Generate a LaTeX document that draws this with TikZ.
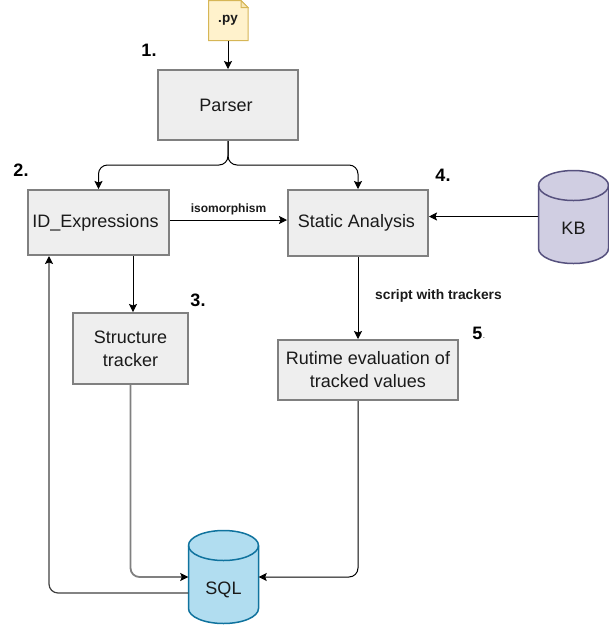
\documentclass[tikz,border=0pt]{standalone}
\usepackage{fontspec}
\setmainfont{Liberation Sans}
\usetikzlibrary{arrows.meta}
\definecolor{boxfill}{HTML}{EEEEEE}
\definecolor{boxline}{HTML}{808080}
\definecolor{txt}{HTML}{1A1A1A}
\definecolor{filefill}{HTML}{FFF2CC}
\definecolor{fileline}{HTML}{D6B656}
\definecolor{kbfill}{HTML}{D0CEE2}
\definecolor{kbline}{HTML}{56517E}
\definecolor{sqlfill}{HTML}{B1DDF0}
\definecolor{sqlline}{HTML}{10739E}
\tikzset{
  x=1pt,y=-1pt,
  procbox/.style={draw=boxline,fill=boxfill,line width=2pt,text=txt,align=center,font=\fontsize{18}{23}\selectfont,inner sep=0pt},
  conn/.style={draw=black,line width=1pt,rounded corners=9pt,-{Stealth[length=8pt,width=8pt,inset=1.5pt]}},
  grayconn/.style={conn,draw=boxline,line width=1.8pt,-{Stealth[length=8pt,width=8pt,inset=1.5pt,color=black]}},
  edgelabel/.style={font=\fontsize{12}{14}\selectfont\bfseries,text=txt,inner sep=0pt},
  steplabel/.style={font=\fontsize{18}{20}\selectfont\bfseries,text=black,inner sep=0pt},
  cyltext/.style={minimum width=70pt,minimum height=93pt,inner sep=0pt},
  cyllabel/.style={text=txt,font=\fontsize{18}{20}\selectfont,inner sep=0pt},
}
\newcommand{\cyl}[6]{% x0, y0, w, h, fill, line
  \filldraw[fill=#5,draw=#6,line width=1.5pt]
    (#1,#2+15) arc[start angle=180,end angle=0,x radius=#3/2,y radius=-15]
    -- (#1+#3,#2+#4-15) arc[start angle=0,end angle=-180,x radius=#3/2,y radius=-15] -- cycle;
  \draw[draw=#6,line width=1.5pt]
    (#1,#2+15) arc[start angle=180,end angle=360,x radius=#3/2,y radius=-15];
}
\begin{document}
\begin{tikzpicture}
\useasboundingbox (0,0) rectangle (609,625);
% file
\fill[filefill] (208.5,0.5) -- (241,0.5) -- (248,7.5) -- (248,40.5) -- (208.5,40.5) -- cycle;
\draw[fileline,line width=1pt] (241,0.5) -- (208.5,0.5) -- (208.5,40.5) -- (248,40.5) -- (248,7.5) -- cycle;
\draw[fileline,fill=filefill!80!fileline,line width=1pt] (241,0.5) -- (241,7.5) -- (248,7.5) -- cycle;
\node[minimum width=40pt,minimum height=41pt,inner sep=0pt,font=\fontsize{13.5}{15}\selectfont\bfseries,text=txt] (py) at (228,20.5) {.py};
% boxes
\node[procbox,minimum width=140pt,minimum height=70pt] (parser) at (228,105) {\raisebox{-0.5pt}{Parser}\hspace{4pt}};
\node[procbox,minimum width=141pt,minimum height=65pt] (idexpr) at (98.5,222.5) {\raisebox{-1.5pt}{ID\_Expressions}\hspace{6pt}};
\node[procbox,minimum width=140pt,minimum height=66pt] (static) at (358,223) {\raisebox{-1.5pt}{Static Analysis}\hspace{3pt}};
\node[procbox,minimum width=115pt,minimum height=71pt] (struct) at (130.5,348.5) {Structure\\tracker};
\node[procbox,minimum width=180pt,minimum height=60pt] (runtime) at (368,370) {Rutime evaluation of\\tracked values};
% cylinders
\cyl{538.5}{170.5}{70}{93}{kbfill}{kbline}
\node[cyltext] (kb) at (573.5,217) {};
\node[cyllabel] (kblbl) at (573.5,228.5) {KB};
\cyl{188.5}{530.5}{70}{93}{sqlfill}{sqlline}
\node[cyltext] (sql) at (223.5,577) {};
\node[cyllabel] (sqllbl) at (223.5,590) {SQL};
% connectors
\coordinate (split) at (228,165);
\draw[conn] (py.south) -- (parser.north);
\draw[conn] (parser.south) -- (split) -| (idexpr.north);
\draw[conn] (parser.south) -- (split) -| (static.north);
\draw[conn] (idexpr.east |- 0,220) -- (static.west |- 0,220) node[midway,above=5pt,edgelabel] (isolbl) {isomorphism};
\draw[conn] (kb.west |- 0,216.5) -- (static.east |- 0,216.5);
\draw[conn] (static.south) -- (runtime.north -| static.south);
\draw[conn] (idexpr.south -| 133,0) -- (struct.north -| 133,0);
\draw[grayconn] (struct.south) |- (sql.west);
\draw[conn] (runtime.south -| static.south) |- (sql.east);
\draw[conn,draw=black!75,line width=1.2pt,-{Stealth[length=8pt,width=8pt,inset=1.5pt,color=black]}] (sql.west |- 0,593) -| (idexpr.south -| 49,0);
% labels
\node[edgelabel,font=\fontsize{13.8}{15}\selectfont\bfseries] (scriptlbl) at (438.5,296) {script with trackers};
\node[steplabel] (n1) at (149,50) {1.};
\node[steplabel] (n2) at (21,170) {2.};
\node[steplabel] (n3) at (198,300) {3.};
\node[steplabel] (n4) at (443,175) {4.};
\node[steplabel] (n5) at (477.5,333) {5};
\node[font=\fontsize{8}{9}\selectfont,inner sep=0pt,text=txt] (n5dot) at (484,338) {.};
\end{tikzpicture}
\end{document}
